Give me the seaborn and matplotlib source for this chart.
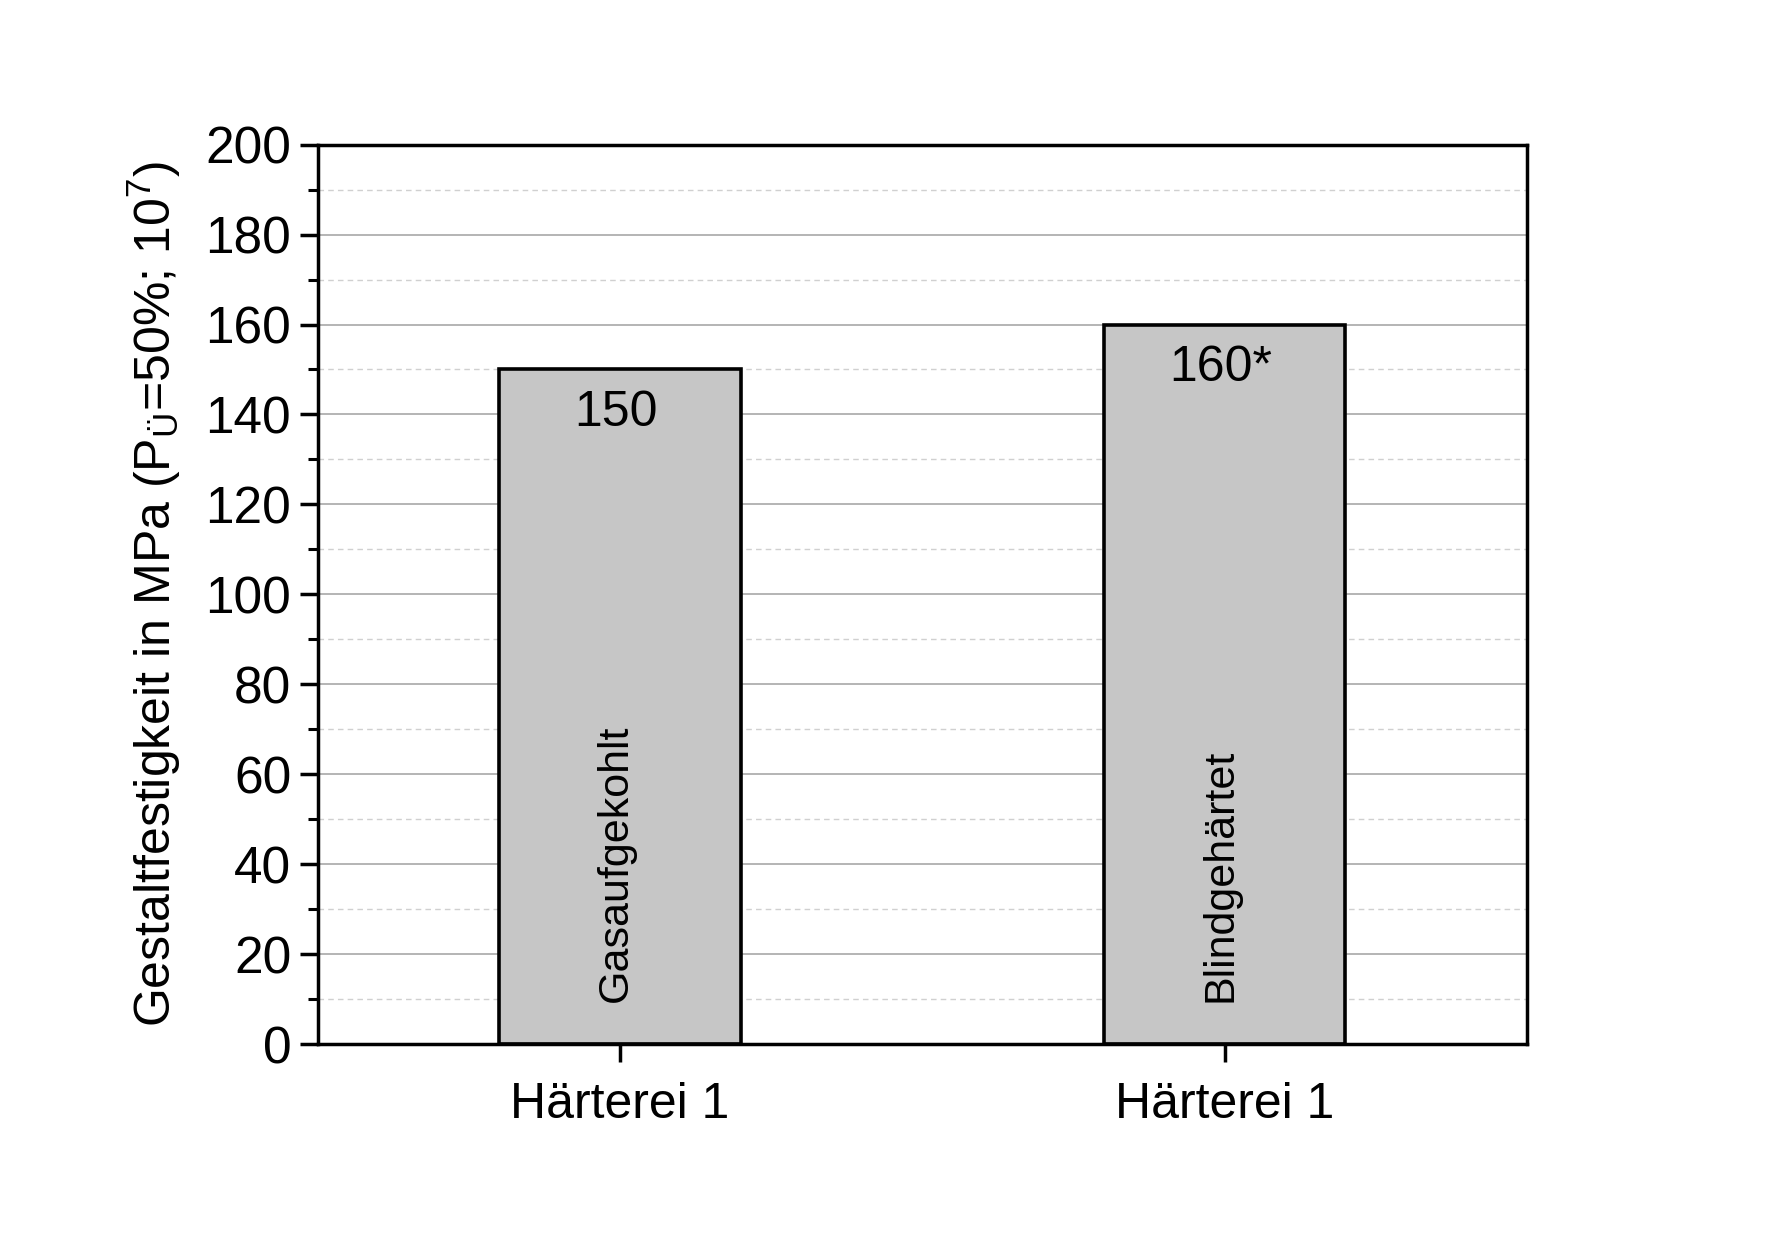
import matplotlib
matplotlib.use("Agg")
import matplotlib.pyplot as plt
import seaborn as sns
import pandas as pd
from matplotlib.ticker import MultipleLocator

treatments = ["Gasaufgekohlt", "Blindgehärtet"]
plants = ["Härterei 1", "Härterei 1"]
values = [150, 160]
value_labels = ["150", "160*"]

sns.set_theme(style="white")
plt.rcParams["font.family"] = ["Liberation Sans", "DejaVu Sans"]
plt.rcParams["mathtext.fontset"] = "custom"
plt.rcParams["mathtext.rm"] = "Liberation Sans"
plt.rcParams["mathtext.it"] = "Liberation Sans"
plt.rcParams["mathtext.default"] = "regular"

df = pd.DataFrame({"treatment": treatments, "value": values})

fig = plt.figure(figsize=(17.72, 12.52), dpi=100)
ax = fig.add_axes([317.6 / 1772, 1 - 1044.1 / 1252, (1526.8 - 317.6) / 1772, (1044.1 - 144.6) / 1252])

sns.barplot(data=df, x="treatment", y="value", ax=ax, color="#c6c6c6",
            edgecolor="black", linewidth=2.6, width=0.4, saturation=1)

ax.set_xlim(-0.5, 1.5)
ax.set_ylim(0, 200)
ax.yaxis.set_major_locator(MultipleLocator(20))
ax.yaxis.set_minor_locator(MultipleLocator(10))
ax.set_xticks(range(len(plants)))
ax.set_xticklabels(plants)

ax.grid(True, which="major", axis="y", color="#a0a0a0", linewidth=1.1, linestyle="-")
ax.grid(True, which="minor", axis="y", color="#d0d0d0", linewidth=1.0, linestyle=(0, (4, 3)))
ax.set_axisbelow(True)

for s in ax.spines.values():
    s.set_visible(True)
    s.set_color("black")
    s.set_linewidth(2.5)

ax.tick_params(axis="y", which="major", direction="out", length=13, width=2.5,
               labelsize=37, left=True, right=False, pad=6, color="black")
ax.tick_params(axis="y", which="minor", direction="out", length=7, width=2.2,
               left=True, right=False, color="black")
ax.tick_params(axis="x", which="major", direction="out", length=13, width=2.5,
               labelsize=36, bottom=True, top=False, pad=14, color="black")
ax.tick_params(labelcolor="black")

ax.set_xlabel("")
ax.set_ylabel(r"Gestaltfestigkeit in MPa (P$_{Ü}$=50%; 10$^{7}$)", fontsize=36,
              color="black", labelpad=16)

for patch, lab, name in zip(ax.patches, value_labels, treatments):
    cx = patch.get_x() + patch.get_width() / 2
    top = patch.get_height()
    ax.annotate(lab, xy=(cx, top), xytext=(-3, -31), textcoords="offset points",
                ha="center", va="center", fontsize=36, color="black")
    ax.annotate(name, xy=(cx, 0), xytext=(-3, 30), textcoords="offset points",
                ha="center", va="bottom", rotation=90, fontsize=31, color="black")

fig.savefig("out.png", dpi=100, facecolor="white")
